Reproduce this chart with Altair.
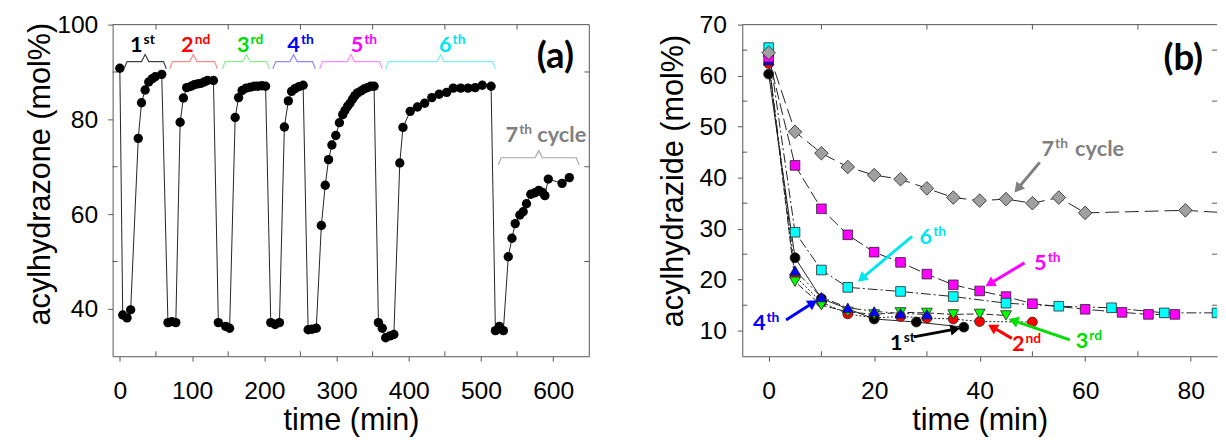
import math
import altair as alt
import pandas as pd

# ---------------- Panel (a) data ----------------
a_time = [0, 4, 10, 15, 25.5, 30, 35, 40, 45, 49, 58,
          66.6, 72, 77.5, 83.5, 88, 92.6, 98.6, 103, 107.7, 112, 116.7, 121.3, 129.6,
          136.4, 146.6, 152, 159.7, 164.4, 169.3, 174.8, 180.8, 186.3, 191.2, 196.7, 201.8,
          209, 215, 221, 227.8, 233.3, 237.8, 242.5, 248, 253.8,
          260.7, 266, 272, 279, 284.4, 289, 293.6, 299, 304, 308.6, 311.8, 315.5, 318.6,
          322.3, 325.5, 329, 333.7, 338, 342.9, 347.4, 352,
          358, 363.4, 368, 374, 379.4, 387.6, 392, 402, 412, 422, 432, 442, 452.5, 461.6,
          472, 482, 492, 501.8, 514,
          520, 525.5, 531, 537.8, 542.9, 547.4, 553.8, 558.4, 563, 569, 574.8, 580, 585,
          588.5, 593.2, 612.3, 622.3]
a_val = [90.8, 38.7, 38.1, 39.8, 76.0, 83.5, 86.2, 87.9, 88.6, 89.0, 89.5,
         37.1, 37.3, 37.1, 79.4, 84.5, 86.7, 87.0, 87.3, 87.5, 87.6, 87.9, 88.2, 88.2,
         37.1, 36.3, 35.9, 80.4, 84.6, 86.1, 86.6, 86.8, 87.0, 87.0, 87.1, 87.0,
         37.1, 36.7, 37.1, 78.4, 83.9, 85.9, 86.5, 86.9, 87.2,
         35.6, 35.7, 35.9, 57.6, 66.1, 71.5, 74.6, 76.6, 79.3, 81.0, 81.9, 82.8, 83.4,
         84.3, 85.0, 85.6, 86.0, 86.4, 86.7, 87.0, 87.0,
         37.1, 35.9, 33.9, 34.3, 34.6, 70.8, 78.3, 81.7, 82.6, 83.4, 84.6, 85.3, 85.7, 86.6,
         86.6, 86.6, 86.7, 87.2, 87.0,
         35.4, 36.3, 35.4, 51.0, 54.9, 58.0, 59.8, 60.5, 62.2, 64.2, 64.5, 65.0, 64.6,
         63.9, 67.4, 66.5, 67.7]

# cycle braces (time units) and labels
brace_lo = [5.9, 68.9, 141.9, 211.8, 276.7, 368, 524]
brace_hi = [64.4, 135.1, 207.3, 270.7, 363.4, 520, 636]
brace_mid = [35, 101.8, 175.3, 240.5, 320, 444, 580]
brace_level = [92.2, 92.2, 92.2, 92.2, 92.2, 92.2, 71.9]
brace_colors = ["#404040", "#ff8a8a", "#8aee8a", "#8a8aff", "#ff8aff", "#7af0f0", "#a8a8a8"]
cyc_base = ["1", "2", "3", "4", "5", "6", "7"]
cyc_sup = ["st", "nd", "rd", "th", "th", "th", "th"]
cyc_anchor = [31.5, 102.2, 179.5, 249.3, 337, 459.3, 551.5]
cyc_y = [94.3, 94.3, 94.3, 94.3, 94.3, 94.3, 75.3]
cyc_colors = ["#000000", "#ff0000", "#00dd00", "#0000ff", "#ff00ff", "#00e5ee", "#808080"]
cycle_word_x = 578
a_ticks_x = [0, 100, 200, 300, 400, 500, 600]
a_minor_x = [50, 150, 250, 350, 450, 550]
a_ticks_y = [40, 60, 80, 100]
a_minor_y = [50, 70, 90]

# ---------------- Panel (b) data ----------------
b_names = ["1st", "2nd", "3rd", "4th", "5th", "6th", "7th"]
b_t = [
    [0, 5, 10, 20, 28, 37],
    [0, 5, 10, 15, 20, 25, 30, 35, 40, 50],
    [0, 5, 10, 15, 20, 25, 30, 35, 40, 45],
    [0, 5, 10, 15, 20, 25, 30],
    [0, 5, 10, 15, 20, 25, 30, 35, 40, 45, 50, 60, 67, 72, 77],
    [0, 5, 10, 15, 25, 35, 45, 55, 65, 75, 85],
    [0, 5, 10, 15, 20, 25, 30, 35, 40, 45, 50, 55, 60, 79, 95],
]
b_v = [
    [60.3, 24.3, 16.3, 12.3, 11.7, 10.7],
    [62.4, 20.7, 15.6, 13.3, 12.5, 12.8, 12.5, 12.3, 11.8, 11.7],
    [63.0, 19.6, 15.0, 13.7, 13.2, 13.6, 13.5, 13.2, 13.3, 13.0],
    [63.0, 21.8, 16.6, 14.5, 13.8, 13.4, 13.2],
    [63.6, 42.4, 33.9, 28.8, 25.4, 23.4, 21.1, 19.0, 17.8, 16.7, 15.3, 14.2, 13.6, 13.2, 13.2],
    [65.5, 29.3, 21.9, 18.5, 17.7, 16.7, 15.4, 14.8, 14.5, 13.5, 13.5],
    [64.5, 49.0, 44.8, 42.1, 40.5, 39.7, 37.9, 36.1, 35.5, 35.8, 35.0, 36.1, 33.1, 33.6, 32.6],
]
b_fill = ["#000000", "#ff0000", "#00ff00", "#0000ff", "#ff00ff", "#00ffff", "#a0a0a0"]
b_shape = ["circle", "circle", "triangle-down", "triangle-up", "square", "square", "diamond"]
b_size = [100, 100, 121, 121, 95, 95, 190]
b_dash = [None, [2, 2], [7, 3], [9, 3, 2, 3, 2, 3], [12, 4], [10, 3, 2, 3], [14, 6]]
draw_order = [1, 0, 2, 3, 4, 5, 6]

b_ticks_x = [0, 20, 40, 60, 80]
b_minor_x = [10, 30, 50, 70]
b_ticks_y = [10, 20, 30, 40, 50, 60, 70]
b_minor_y = [15, 25, 35, 45, 55, 65]

# annotations of panel (b)
ann_base = ["1", "2", "3", "4", "5", "6", "7"]
ann_sup = ["st", "nd", "rd", "th", "th", "th", "th"]
ann_anchor_x = [25.4, 48.5, 60.6, -0.6, 52.7, 31.0, 54.1]
ann_y = [6.3, 6.0, 6.6, 10.1, 22.0, 27.0, 44.2]
ann_colors = ["#000000", "#ff0000", "#00dd00", "#0000ff", "#ff00ff", "#00e5ee", "#808080"]
arr_x0 = [27.5, 46.1, 57.1, 3.3, 48.5, 27.2, 51.4]
arr_y0 = [8.8, 8.5, 8.2, 12.1, 23.3, 28.5, 43.0]
arr_x1 = [36.3, 41.6, 45.5, 9.2, 41.1, 16.9, 46.6]
arr_y1 = [10.5, 11.2, 12.3, 16.0, 18.7, 19.6, 37.1]

# ---------------- layout ----------------
WA, HA = 483, 336
WB, HB = 481, 336
A_XDOM, A_YDOM = [-10, 650], [30, 100]
B_XDOM, B_YDOM = [-5, 85], [5, 70]
AXC = "#555555"
LABEL_FONT = "Liberation Sans"
ANN_FONT = "Lato"

AX_A_X = alt.Axis(values=a_ticks_x, tickSize=5, labelPadding=18, title="time (min)",
                  titleY=74, titleBaseline="alphabetic")
AX_A_Y = alt.Axis(values=a_ticks_y, tickSize=5, labelPadding=10, title="acylhydrazone (mol%)",
                  titleAngle=270, titleX=-64, titleY=151, titleAlign="center",
                  titleBaseline="alphabetic")
AX_B_X = alt.Axis(values=b_ticks_x, tickSize=5, labelPadding=18, title="time (min)",
                  titleY=74, titleBaseline="alphabetic")
AX_B_Y = alt.Axis(values=b_ticks_y, tickSize=5, labelPadding=11, title="acylhydrazide (mol%)",
                  titleAngle=270, titleX=-61, titleY=158, titleAlign="center",
                  titleBaseline="alphabetic")


def make_enc(xdom, ydom, axx, axy):
    def fx(field):
        return alt.X(f"{field}:Q", scale=alt.Scale(domain=xdom, nice=False, zero=False), axis=axx)

    def fy(field):
        return alt.Y(f"{field}:Q", scale=alt.Scale(domain=ydom, nice=False, zero=False), axis=axy)
    return fx, fy


xa, ya = make_enc(A_XDOM, A_YDOM, AX_A_X, AX_A_Y)
xb, yb = make_enc(B_XDOM, B_YDOM, AX_B_X, AX_B_Y)

one = pd.DataFrame({"k": [0]})


def frame_layers(W, H, fx, fy, minor_x, minor_y, right=True):
    layers = []
    layers.append(alt.Chart(one).mark_rule(color=AXC, strokeWidth=1).encode(
        x=alt.value(0), x2=alt.value(W), y=alt.value(0)))
    if right:
        layers.append(alt.Chart(one).mark_rule(color=AXC, strokeWidth=1).encode(
            x=alt.value(W), y=alt.value(0), y2=alt.value(H)))
    mx = pd.DataFrame({"v": minor_x})
    my = pd.DataFrame({"v": minor_y})
    layers.append(alt.Chart(mx).mark_rule(color=AXC).encode(
        x=fx("v"), y=alt.value(H - 5), y2=alt.value(H)))
    layers.append(alt.Chart(mx).mark_rule(color=AXC).encode(
        x=fx("v"), y=alt.value(0), y2=alt.value(5)))
    layers.append(alt.Chart(my).mark_rule(color=AXC).encode(
        y=fy("v"), x=alt.value(0), x2=alt.value(5)))
    layers.append(alt.Chart(my).mark_rule(color=AXC).encode(
        y=fy("v"), x=alt.value(W - 5), x2=alt.value(W)))
    return layers


# ---------- Panel (a) ----------
dfa = pd.DataFrame({"t": a_time, "v": a_val, "i": range(len(a_time))})
a_line = alt.Chart(dfa).mark_line(color="#222222", strokeWidth=1).encode(
    x=xa("t"), y=ya("v"), order="i:Q")
a_pts = alt.Chart(dfa).mark_point(shape="circle", filled=True, color="#000000", size=90,
                                  opacity=1).encode(x=xa("t"), y=ya("v"))

brace_rows = []
for b in range(len(brace_lo)):
    lo, hi, mid, lev = brace_lo[b], brace_hi[b], brace_mid[b], brace_level[b]
    pts = [(lo, lev - 1.5), (lo + 4, lev), (mid - 5, lev), (mid, lev + 1.5),
           (mid + 5, lev), (hi - 4, lev), (hi, lev - 1.5)]
    for j, (px, py) in enumerate(pts):
        brace_rows.append({"b": b, "o": j, "x": px, "y": py, "c": brace_colors[b]})
dfbr = pd.DataFrame(brace_rows)
a_braces = alt.Chart(dfbr).mark_line(strokeWidth=1.2).encode(
    x=xa("x"), y=ya("y"), detail="b:N", order="o:Q", color=alt.Color("c:N", scale=None))

dfl = pd.DataFrame({"x": cyc_anchor, "y": cyc_y, "base": cyc_base, "sup": cyc_sup, "c": cyc_colors})
a_lab_base = alt.Chart(dfl).mark_text(align="right", baseline="alphabetic", font=ANN_FONT,
                                      fontWeight="bold", fontSize=22).encode(
    x=xa("x"), y=ya("y"), text="base:N", color=alt.Color("c:N", scale=None))
a_lab_sup = alt.Chart(dfl).mark_text(align="left", baseline="alphabetic", font=ANN_FONT,
                                     fontWeight="bold", fontSize=14, dx=1, dy=-8).encode(
    x=xa("x"), y=ya("y"), text="sup:N", color=alt.Color("c:N", scale=None))
a_cycle = alt.Chart(pd.DataFrame({"x": [cycle_word_x], "y": [cyc_y[6]], "t": ["cycle"]})).mark_text(
    align="left", baseline="alphabetic", font=ANN_FONT, fontWeight="bold", fontSize=22,
    color="#808080").encode(x=xa("x"), y=ya("y"), text="t:N")
a_tag = alt.Chart(pd.DataFrame({"x": [603], "y": [90.8], "t": ["(a)"]})).mark_text(
    align="center", baseline="alphabetic", font=ANN_FONT, fontWeight="bold", fontSize=37,
    color="#000000").encode(x=xa("x"), y=ya("y"), text="t:N")

panel_a = alt.layer(
    a_line, *frame_layers(WA, HA, xa, ya, a_minor_x, a_minor_y),
    a_pts, a_braces, a_lab_base, a_lab_sup, a_cycle, a_tag
).properties(width=WA, height=HA)

# ---------- Panel (b) ----------
b_lines, b_pts = [], []
for k in draw_order:
    d = pd.DataFrame({"t": b_t[k], "v": b_v[k], "i": range(len(b_t[k]))})
    kw = dict(color="#222222", strokeWidth=1, clip=True)
    if b_dash[k]:
        kw["strokeDash"] = b_dash[k]
    b_lines.append(alt.Chart(d).mark_line(**kw).encode(x=xb("t"), y=yb("v"), order="i:Q"))
    b_pts.append(alt.Chart(d).mark_point(shape=b_shape[k], filled=True, fill=b_fill[k],
                                         stroke="#222222", strokeWidth=0.8, size=b_size[k],
                                         opacity=1, clip=True).encode(x=xb("t"), y=yb("v")))

# arrows
kx = WB / (B_XDOM[1] - B_XDOM[0])
ky = HB / (B_YDOM[1] - B_YDOM[0])
rows = []
for i in range(len(arr_x0)):
    dxp = (arr_x1[i] - arr_x0[i]) * kx
    dyp = -(arr_y1[i] - arr_y0[i]) * ky
    L = math.hypot(dxp, dyp)
    ux, uy = dxp / L, dyp / L
    back = 5.0
    hx = arr_x1[i] - back * ux / kx
    hy = arr_y1[i] + back * uy / ky
    ang = math.degrees(math.atan2(dxp, -dyp)) % 360
    rows.append({"x0": arr_x0[i], "y0": arr_y0[i], "hx": hx, "hy": hy, "ang": ang,
                 "c": ann_colors[i]})
dfar = pd.DataFrame(rows)
b_shaft = alt.Chart(dfar).mark_rule(strokeWidth=3).encode(
    x=xb("x0"), y=yb("y0"), x2="hx:Q", y2="hy:Q", color=alt.Color("c:N", scale=None))
b_head = alt.Chart(dfar).mark_point(shape="triangle-up", filled=True, size=130, opacity=1).encode(
    x=xb("hx"), y=yb("hy"), angle=alt.Angle("ang:Q", scale=None),
    color=alt.Color("c:N", scale=None))

dfan = pd.DataFrame({"x": ann_anchor_x, "y": ann_y, "base": ann_base, "sup": ann_sup, "c": ann_colors})
b_lab_base = alt.Chart(dfan).mark_text(align="right", baseline="alphabetic", font=ANN_FONT,
                                       fontWeight="bold", fontSize=22).encode(
    x=xb("x"), y=yb("y"), text="base:N", color=alt.Color("c:N", scale=None))
b_lab_sup = alt.Chart(dfan).mark_text(align="left", baseline="alphabetic", font=ANN_FONT,
                                      fontWeight="bold", fontSize=14, dx=1, dy=-8).encode(
    x=xb("x"), y=yb("y"), text="sup:N", color=alt.Color("c:N", scale=None))
b_cycle = alt.Chart(pd.DataFrame({"x": [58.1], "y": [44.2], "t": ["cycle"]})).mark_text(
    align="left", baseline="alphabetic", font=ANN_FONT, fontWeight="bold", fontSize=22,
    color="#808080").encode(x=xb("x"), y=yb("y"), text="t:N")
b_tag = alt.Chart(pd.DataFrame({"x": [78.6], "y": [61.2], "t": ["(b)"]})).mark_text(
    align="center", baseline="alphabetic", font=ANN_FONT, fontWeight="bold", fontSize=37,
    color="#000000").encode(x=xb("x"), y=yb("y"), text="t:N")

panel_b = alt.layer(
    *b_lines, *frame_layers(WB, HB, xb, yb, b_minor_x, b_minor_y, right=False),
    *b_pts, b_shaft, b_head, b_lab_base, b_lab_sup, b_cycle, b_tag
).properties(width=WB, height=HB)

chart = alt.hconcat(panel_a, panel_b, spacing=67).properties(
    padding={"left": 16, "top": 2, "right": 0, "bottom": 0}
).configure_view(stroke=None).configure_axis(
    grid=False, domainColor=AXC, tickColor=AXC, domainWidth=1, tickWidth=1,
    labelFont=LABEL_FONT, labelFontSize=25, labelColor="#000000",
    titleFont=LABEL_FONT, titleFontSize=31, titleFontWeight="normal", titleColor="#000000"
)

chart.save("out.html", embed_options={"renderer": "svg", "actions": False})
